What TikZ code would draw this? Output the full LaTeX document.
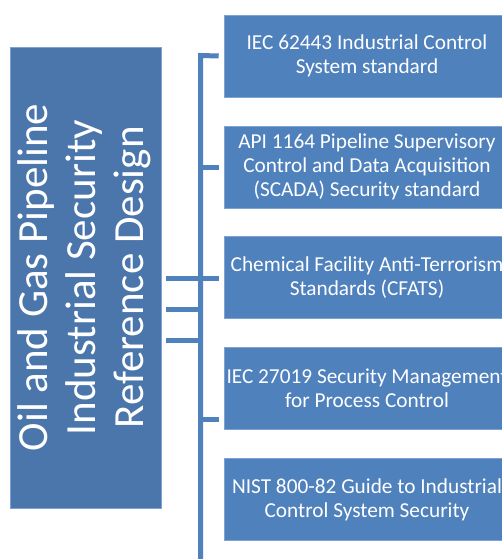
\documentclass[tikz,border=0pt]{standalone}
\usepackage{fontspec}
\setmainfont{Carlito}
\usepackage{graphicx}
\usetikzlibrary{calc}
\definecolor{stdblue}{HTML}{4F81BD}
\definecolor{titleblue}{HTML}{4A76AB}
\definecolor{edgeblue}{HTML}{7EA2D2}
\begin{document}
\begin{tikzpicture}[x=1pt,y=1pt,
  stdbox/.style={fill=stdblue, draw=edgeblue, line width=0.6pt,
    minimum width=286pt, minimum height=82pt, inner sep=0pt,
    text=white, align=center, font=\fontsize{21.3}{24}\selectfont},
  titlebox/.style={fill=titleblue, draw=edgeblue, line width=0.6pt,
    minimum width=151pt, minimum height=461pt, inner sep=0pt, text=white},
  link/.style={draw=stdblue, line width=5pt}]
\useasboundingbox (0,0) rectangle (502,-559);

% title block with vertical text
\node[titlebox] (title) at (85.5,-277.5)
  {\rotatebox{90}{\fontsize{43}{48}\selectfont
   \begin{tabular}{@{}c@{}}Oil and Gas Pipeline\\Industrial Security\\Reference Design\end{tabular}}};

% standards
\node[stdbox] (s1) at (367,-56) {IEC 62443 Industrial Control\\System standard};
\node[stdbox] (s2) at (367,-167) {API 1164 Pipeline Supervisory\\Control and Data Acquisition\\(SCADA) Security standard};
\node[stdbox] (s3) at (367,-277.5) {Chemical Facility Anti-Terrorism\\Standards (CFATS)};
\node[stdbox] (s4) at (367,-388.5) {IEC 27019 Security Management\\for Process Control};
\node[stdbox] (s5) at (367,-499.5) {NIST 800-82 Guide to Industrial\\Control System Security};

% spine and branches
\coordinate (top) at (200.5,-55.5);
\coordinate (bot) at (200.5,-565);
\draw[link] ($(s1.west)+(-5,0)$) -- (top) -- (bot);
\draw[link] (top |- s2.west) -- ($(s2.west)+(-5,0)$);
\draw[link] ($(title.east)+(5,-0.5)$) -- ($(s3.west)+(-5,-0.5)$);
\coordinate (j1) at ($(title.east)+(5,-31.5)$);
\coordinate (j2) at ($(title.east)+(5,-62.5)$);
\draw[link] (j1) -- (j1 -| top);
\draw[link] (j2) -- (j2 -| top);
\coordinate (j4) at ($(s4.south west)+(-5,10)$);
\draw[link] (j4 -| top) -- (j4);
\end{tikzpicture}
\end{document}
